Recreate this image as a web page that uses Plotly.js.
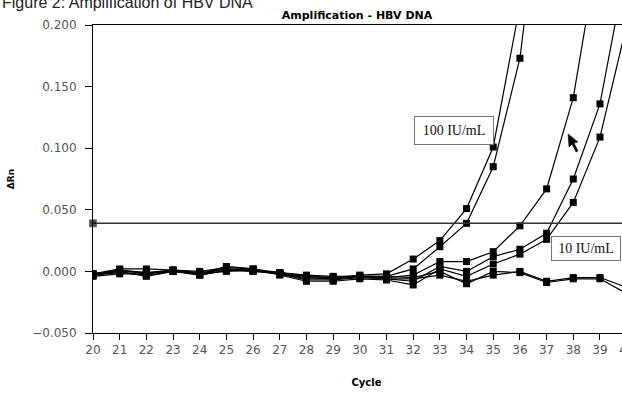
<!DOCTYPE html>
<html>
<head>
<meta charset="utf-8">
<script src="https://cdn.plot.ly/plotly-3.0.1.min.js"></script>
<style>
html, body { margin:0; padding:0; overflow:hidden; background:#fff; width:622px; height:398px; }
#chart { width:650px; height:398px; }
</style>
</head>
<body>
<div id="chart"></div>
<script>
// Cycle numbers
const cycles = [20,21,22,23,24,25,26,27,28,29,30,31,32,33,34,35,36,37,38,39,40];

// ΔRn values
const s100a = [-0.002,0.001,-0.001,0.001,-0.001,0.002,0.001,-0.001,-0.004,-0.005,-0.003,-0.002,0.010,0.025,0.051,0.101,0.216,0.400];
const s100b = [-0.003,-0.001,-0.003,0.000,-0.002,0.000,0.001,-0.002,-0.006,-0.006,-0.004,-0.004,0.002,0.020,0.039,0.085,0.173,0.350];
const s10a  = [-0.002,0.002,0.002,0.001,0.000,0.003,0.002,-0.001,-0.003,-0.004,-0.004,-0.005,-0.003,0.008,0.008,0.016,0.037,0.067,0.141,0.270];
const s10b  = [-0.003,0.000,-0.004,0.000,-0.003,0.001,0.000,-0.002,-0.007,-0.007,-0.005,-0.006,-0.008,0.004,0.000,0.012,0.018,0.031,0.075,0.136,0.250];
const s10c  = [-0.004,-0.002,-0.002,0.001,-0.002,0.004,0.002,-0.003,-0.008,-0.008,-0.006,-0.007,-0.011,0.002,-0.004,0.006,0.014,0.026,0.056,0.109,0.200];
const sNegA = [-0.003,0.001,-0.002,0.001,-0.003,0.001,0.001,-0.002,-0.005,-0.006,-0.004,-0.006,-0.006,-0.003,-0.008,-0.003,0.000,-0.008,-0.005,-0.005,-0.013];
const sNegB = [-0.002,0.000,-0.001,0.000,-0.002,0.002,0.000,-0.001,-0.004,-0.005,-0.004,-0.004,-0.005,0.000,-0.010,0.000,-0.001,-0.009,-0.006,-0.006,-0.018];

const threshold = 0.039;
const thresholdX = [20, 41];

const yTicks = [-0.05, 0, 0.05, 0.1, 0.15, 0.2];
const xTicks = cycles;

const allSeries = [s100a, s100b, s10a, s10b, s10c, sNegA, sNegB];

const traces = allSeries.map(s => ({
  x: cycles.slice(0, s.length),
  y: s,
  type: 'scatter',
  mode: 'lines+markers',
  line: {color: '#000', width: 1.2},
  marker: {symbol: 'square', size: 7, color: '#000'},
  cliponaxis: true,
  hoverinfo: 'skip',
  showlegend: false
}));

traces.push({
  x: thresholdX,
  y: thresholdX.map(() => threshold),
  type: 'scatter',
  mode: 'lines+markers',
  line: {color: '#333', width: 1.5},
  marker: {symbol: 'square', size: [7, 0], color: '#000'},
  cliponaxis: false,
  hoverinfo: 'skip',
  showlegend: false
});

// pixel -> paper helpers for annotations/decorations
const L = 93, T = 25, PW = 547, PH = 308;
const px = v => (v - L) / PW;
const py = v => (T + PH - v) / PH;

// mouse cursor decoration
const cur = [[568,134],[569,147],[572,144],[576,152],[578,151],[574,143],[578,142]];
const curPath = 'M' + cur.map(p => px(p[0]) + ',' + py(p[1])).join(' L') + ' Z';

const layout = {
  width: 650, height: 398,
  margin: {l: L, r: 650 - L - PW, t: T, b: 398 - T - PH},
  paper_bgcolor: '#fff', plot_bgcolor: '#fff',
  title: {
    text: '<b>Amplification - HBV DNA</b>',
    font: {family: 'DejaVu Sans', size: 11, color: '#000'},
    xref: 'container', x: 357/650, xanchor: 'center',
    yref: 'container', y: 1 - 15/398, yanchor: 'middle'
  },
  xaxis: {
    range: [20, 40.5],
    tickvals: xTicks,
    ticks: 'outside', ticklen: 6, tickcolor: '#000', tickwidth: 1,
    showline: true, linecolor: '#000', linewidth: 1, mirror: true,
    showgrid: false, zeroline: false,
    tickfont: {family: 'DejaVu Sans', size: 12, color: '#555'},
    title: {text: '<b>Cycle</b>', font: {family: 'DejaVu Sans', size: 10, color: '#000'}, standoff: 22}
  },
  yaxis: {
    range: [-0.05, 0.2],
    tickvals: yTicks,
    tickformat: '.3f',
    ticks: 'outside', ticklen: 7, tickcolor: '#000', tickwidth: 1,
    showline: true, linecolor: '#000', linewidth: 1,
    showgrid: false, zeroline: false,
    tickfont: {family: 'DejaVu Sans', size: 12, color: '#555'},
    ticklabelstandoff: 6,
    title: {text: '<b>ΔRn</b>', font: {family: 'DejaVu Sans', size: 9, color: '#000'}, standoff: 16}
  },
  annotations: [
    {
      text: 'Figure 2: Amplification of HBV DNA',
      xref: 'paper', yref: 'paper', x: px(0), y: py(2), xanchor: 'left', yanchor: 'middle',
      showarrow: false,
      font: {family: 'Liberation Sans', size: 16, color: '#222'}
    },
    {
      text: '100 IU/mL',
      xref: 'paper', yref: 'paper', x: px(454), y: py(130.5), xanchor: 'center', yanchor: 'middle',
      showarrow: false, bgcolor: '#fff', bordercolor: '#777', borderwidth: 1, borderpad: 2,
      width: 74, height: 23,
      font: {family: 'Liberation Serif', size: 14, color: '#111'}
    },
    {
      text: '10 IU/mL',
      xref: 'paper', yref: 'paper', x: px(586), y: py(248.5), xanchor: 'center', yanchor: 'middle',
      showarrow: false, bgcolor: '#fff', bordercolor: '#777', borderwidth: 1, borderpad: 2,
      width: 64, height: 19,
      font: {family: 'Liberation Serif', size: 14, color: '#111'}
    }
  ],
  shapes: [
    {type: 'path', xref: 'paper', yref: 'paper', path: curPath, fillcolor: '#000', line: {color: '#000', width: 0.5}}
  ]
};

Plotly.newPlot('chart', traces, layout, {displayModeBar: false, staticPlot: true});
</script>
</body>
</html>
